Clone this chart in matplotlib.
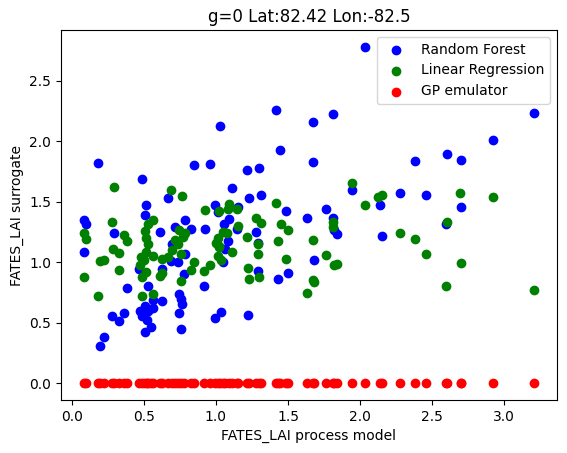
import matplotlib
matplotlib.use('Agg')
import matplotlib.pyplot as plt

# values
rf_x = [2.034, 1.414, 1.809, 1.677, 1.028, 3.209, 2.924, 2.606, 2.698, 2.384, 1.446, 1.677, 1.296, 1.213,
        1.109, 1.227, 1.31, 1.941, 2.28, 2.46, 2.135, 2.703, 1.767, 1.484, 1.157, 1.629, 1.809, 2.599,
        1.837, 1.822, 2.15, 1.089, 1.058, 1.144, 1.276, 1.29, 1.082, 1.066, 1.047, 1.684, 1.29, 1.497,
        1.428, 1.22, 1.035, 0.994,
        0.18, 0.852, 0.963, 0.485, 0.666, 0.513, 0.991, 1.012, 0.506, 0.083, 0.099, 0.783, 0.714, 0.825,
        0.922, 0.291, 0.61, 0.693, 0.083, 0.783, 0.686, 0.741, 0.465, 0.624, 0.777, 0.915, 0.381, 0.533,
        0.748, 0.756, 0.763, 0.63, 0.562, 0.562, 0.506, 0.476, 0.533, 0.488, 0.52, 0.548, 0.506, 0.28,
        0.361, 0.332, 0.748, 0.756, 0.228, 0.194]
rf_y = [2.78, 2.26, 2.228, 2.162, 2.126, 2.237, 2.013, 1.897, 1.847, 1.839, 1.93, 1.831, 1.781, 1.765,
        1.616, 1.533, 1.558, 1.599, 1.574, 1.558, 1.475, 1.459, 1.442, 1.425, 1.459, 1.367, 1.362, 1.315,
        1.235, 1.262, 1.218, 1.36, 1.312, 1.276, 1.252, 1.16, 1.177, 1.105, 1.003, 1.02, 0.929, 0.912,
        0.863, 0.565, 0.586, 0.54,
        1.823, 1.806, 1.814, 1.69, 1.533, 1.472, 1.472, 1.417, 1.392, 1.345, 1.312, 1.351, 1.293, 1.276,
        1.276, 1.243, 1.252, 1.152, 1.086, 1.07, 1.011, 1.003, 0.945, 0.945, 0.904, 0.805, 0.788, 0.801,
        0.733, 0.697, 0.656, 0.68, 0.686, 0.622, 0.636, 0.6, 0.6, 0.553, 0.52, 0.465, 0.424, 0.553,
        0.581, 0.515, 0.581, 0.449, 0.382, 0.308]

lr_x = [1.941, 2.696, 2.15, 2.124, 2.924, 2.031, 1.414, 1.089, 1.082, 1.146, 1.024, 1.276, 1.31, 1.157,
        1.449, 1.497, 1.809, 1.809, 2.606, 1.047, 1.075, 1.213, 1.428, 1.677, 1.29, 2.28, 2.384, 2.46,
        1.109, 1.29, 1.024, 1.484, 1.767, 1.837, 1.822, 2.703, 1.035, 1.22, 1.296, 1.227, 1.677, 1.684,
        2.599, 1.629, 3.209,
        0.291, 0.686, 0.763, 0.922, 0.277, 0.562, 0.533, 0.506, 0.513, 0.083, 0.097, 0.361, 0.381, 0.748,
        0.783, 0.772, 0.714, 0.741, 0.533, 0.284, 0.332, 0.693, 0.513, 0.562, 0.479, 0.666, 0.624, 0.499,
        0.756, 0.472, 0.194, 0.228, 0.332, 0.852, 0.825, 0.963, 0.915, 0.513, 0.63, 0.61, 0.485, 0.083,
        0.756, 0.18, 0.562, 0.485, 1.012, 0.998, 1.019, 1.012]
lr_y = [1.657, 1.574, 1.558, 1.54, 1.535, 1.475, 1.491, 1.483, 1.436, 1.442, 1.425, 1.367, 1.326, 1.301,
        1.318, 1.268, 1.33, 1.29, 1.333, 1.253, 1.245, 1.211, 1.177, 1.186, 1.152, 1.245, 1.195, 1.069,
        1.085, 1.069, 1.127, 1.028, 1.062, 0.986, 0.978, 0.995, 1.015, 0.955, 0.88, 0.863, 0.854, 0.837,
        0.805, 0.746, 0.77,
        1.624, 1.599, 1.55, 1.434, 1.334, 1.351, 1.318, 1.26, 1.202, 1.243, 1.194, 1.227, 1.177, 1.268,
        1.243, 1.21, 1.185, 1.152, 1.152, 1.111, 1.078, 1.103, 1.086, 1.053, 1.045, 1.045, 1.028, 1.02,
        1.07, 0.978, 1.011, 1.02, 0.937, 1.003, 0.937, 0.978, 0.929, 0.92, 0.912, 0.887, 0.879, 0.879,
        0.846, 0.722, 0.738, 0.722, 1.2, 1.16, 1.13, 1.05]

gp_x = [0.083, 0.099, 0.18, 0.194, 0.228, 0.28, 0.291, 0.332, 0.361, 0.381, 0.465, 0.485, 0.506, 0.52,
        0.533, 0.548, 0.562, 0.61, 0.63, 0.666, 0.693, 0.714, 0.741, 0.756, 0.777, 0.825, 0.852, 0.915,
        0.963, 0.994, 1.012, 1.028, 1.047, 1.066, 1.089, 1.109, 1.144, 1.157, 1.213, 1.227, 1.276, 1.296,
        1.31, 1.414, 1.428, 1.446, 1.484, 1.497, 1.629, 1.677, 1.684, 1.767, 1.809, 1.822, 1.837, 1.941,
        2.034, 2.135, 2.15, 2.28, 2.384, 2.46, 2.599, 2.606, 2.698, 2.703, 2.924, 3.209]
gp_y = [0.0] * len(gp_x)

fig = plt.figure(figsize=(5.67, 4.53), dpi=100)
ax = fig.add_axes([61 / 567, 53 / 453, 496 / 567, 370 / 453])

ax.scatter(rf_x, rf_y, color='blue', label='Random Forest')
ax.scatter(lr_x, lr_y, color='green', label='Linear Regression')
ax.scatter(gp_x, gp_y, color='red', label='GP emulator')

ax.set_title('g=0 Lat:82.42 Lon:-82.5')
ax.set_xlabel('FATES_LAI process model')
ax.set_ylabel('FATES_LAI surrogate')
ax.legend()

fig.savefig('out.png', dpi=100)
